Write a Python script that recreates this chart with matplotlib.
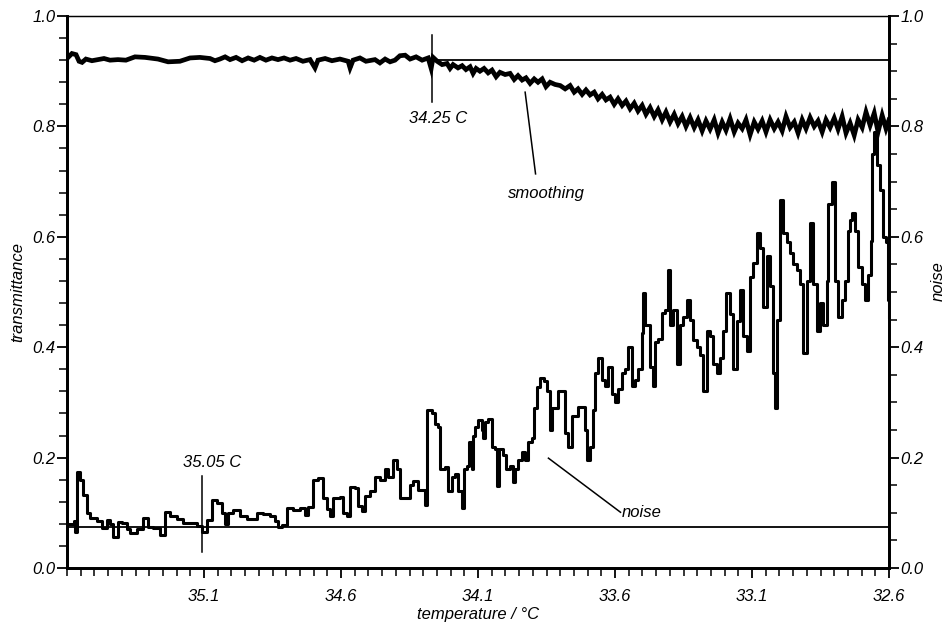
import numpy as np
import matplotlib
matplotlib.use("Agg")
import matplotlib.pyplot as plt
from matplotlib.ticker import MultipleLocator, FixedLocator

plt.rcParams['font.family'] = ['Liberation Sans', 'DejaVu Sans']
plt.rcParams['font.style'] = 'italic'
plt.rcParams['font.size'] = 11

# upper trace: transmittance after smoothing
t_temp = [35.596, 35.582, 35.567, 35.556, 35.545, 35.531, 35.509, 35.487, 35.465, 35.443,
          35.414, 35.385, 35.352, 35.315, 35.268, 35.231, 35.188, 35.151, 35.115, 35.078,
          35.060, 35.042, 35.023, 35.005, 34.983, 34.961, 34.939, 34.917, 34.896, 34.874,
          34.852, 34.830, 34.808, 34.786, 34.764, 34.739, 34.713, 34.695, 34.684, 34.658,
          34.633, 34.604, 34.574, 34.567, 34.556, 34.531, 34.509, 34.476, 34.458, 34.439,
          34.421, 34.403, 34.385, 34.366, 34.348, 34.326, 34.304, 34.282, 34.271, 34.264,
          34.249, 34.231, 34.213, 34.202, 34.191, 34.173, 34.158, 34.144, 34.129, 34.118,
          34.107, 34.093, 34.078, 34.063, 34.049, 34.034, 34.020, 34.001, 33.983, 33.968,
          33.954, 33.939, 33.925, 33.910, 33.895, 33.881, 33.866, 33.852, 33.837, 33.819,
          33.800, 33.782, 33.764, 33.749, 33.735, 33.720, 33.706, 33.691, 33.676, 33.662,
          33.647, 33.633, 33.618, 33.603, 33.589, 33.574, 33.560, 33.545, 33.530, 33.516,
          33.501, 33.487, 33.472, 33.457, 33.443, 33.428, 33.414, 33.399, 33.384, 33.370,
          33.355, 33.341, 33.326, 33.311, 33.297, 33.282, 33.268, 33.253, 33.238, 33.224,
          33.209, 33.195, 33.180, 33.165, 33.151, 33.136, 33.122, 33.107, 33.092, 33.078,
          33.063, 33.049, 33.034, 33.019, 33.005, 32.990, 32.976, 32.961, 32.946, 32.932,
          32.917, 32.903, 32.888, 32.873, 32.859, 32.844, 32.830, 32.815, 32.800, 32.786,
          32.771, 32.757, 32.742, 32.727, 32.713, 32.698, 32.684, 32.669, 32.654, 32.640,
          32.625, 32.611, 32.600]
transmittance = [0.925, 0.932, 0.930, 0.918, 0.916, 0.922, 0.919, 0.921, 0.923, 0.920,
                 0.921, 0.920, 0.926, 0.925, 0.922, 0.917, 0.918, 0.924, 0.925, 0.923,
                 0.919, 0.922, 0.926, 0.921, 0.925, 0.919, 0.924, 0.920, 0.925, 0.920,
                 0.924, 0.921, 0.924, 0.920, 0.923, 0.918, 0.921, 0.906, 0.920, 0.923,
                 0.919, 0.922, 0.918, 0.906, 0.920, 0.924, 0.918, 0.921, 0.915, 0.922,
                 0.917, 0.920, 0.928, 0.929, 0.922, 0.926, 0.920, 0.924, 0.905, 0.925,
                 0.918, 0.912, 0.914, 0.905, 0.912, 0.906, 0.910, 0.903, 0.908, 0.896,
                 0.905, 0.900, 0.905, 0.897, 0.902, 0.890, 0.898, 0.894, 0.896, 0.885,
                 0.892, 0.884, 0.888, 0.878, 0.886, 0.880, 0.886, 0.872, 0.880, 0.876,
                 0.874, 0.868, 0.874, 0.862, 0.868, 0.858, 0.866, 0.857, 0.862, 0.850,
                 0.858, 0.848, 0.853, 0.840, 0.850, 0.838, 0.846, 0.832, 0.842, 0.828,
                 0.838, 0.822, 0.834, 0.818, 0.830, 0.812, 0.826, 0.808, 0.822, 0.805,
                 0.818, 0.800, 0.816, 0.798, 0.812, 0.792, 0.810, 0.795, 0.812, 0.788,
                 0.808, 0.793, 0.814, 0.790, 0.806, 0.796, 0.812, 0.785, 0.808, 0.795,
                 0.810, 0.790, 0.812, 0.796, 0.808, 0.792, 0.818, 0.798, 0.808, 0.788,
                 0.812, 0.796, 0.816, 0.800, 0.810, 0.790, 0.812, 0.798, 0.815, 0.795,
                 0.818, 0.788, 0.806, 0.784, 0.812, 0.798, 0.826, 0.802, 0.824, 0.790,
                 0.820, 0.796, 0.812]

# lower trace: noise
n_temp = [35.596, 35.574, 35.571, 35.563, 35.553, 35.542, 35.527, 35.516, 35.490, 35.472,
          35.454, 35.443, 35.432, 35.414, 35.399, 35.381, 35.370, 35.344, 35.323, 35.304,
          35.286, 35.261, 35.242, 35.224, 35.198, 35.177, 35.151, 35.125, 35.107, 35.089,
          35.071, 35.052, 35.034, 35.023, 35.012, 34.994, 34.969, 34.943, 34.921, 34.906,
          34.885, 34.859, 34.841, 34.830, 34.815, 34.797, 34.775, 34.750, 34.731, 34.720,
          34.702, 34.684, 34.666, 34.651, 34.640, 34.629, 34.604, 34.593, 34.578, 34.567,
          34.549, 34.538, 34.523, 34.512, 34.494, 34.476, 34.458, 34.439, 34.428, 34.410,
          34.395, 34.385, 34.366, 34.348, 34.337, 34.319, 34.304, 34.293, 34.286, 34.268,
          34.257, 34.246, 34.239, 34.220, 34.209, 34.195, 34.184, 34.173, 34.158, 34.151,
          34.140, 34.133, 34.122, 34.118, 34.111, 34.100, 34.085, 34.082, 34.074, 34.063,
          34.049, 34.038, 34.030, 34.023, 34.009, 33.998, 33.983, 33.972, 33.965, 33.954,
          33.939, 33.928, 33.917, 33.903, 33.895, 33.884, 33.874, 33.859, 33.848, 33.837,
          33.830, 33.808, 33.782, 33.771, 33.757, 33.735, 33.709, 33.702, 33.691, 33.680,
          33.673, 33.662, 33.647, 33.636, 33.625, 33.611, 33.600, 33.589, 33.574, 33.563,
          33.552, 33.538, 33.527, 33.516, 33.501, 33.498, 33.490, 33.472, 33.461, 33.454,
          33.443, 33.428, 33.417, 33.406, 33.399, 33.388, 33.373, 33.363, 33.352, 33.337,
          33.326, 33.315, 33.300, 33.290, 33.279, 33.264, 33.253, 33.242, 33.227, 33.217,
          33.206, 33.195, 33.180, 33.169, 33.154, 33.144, 33.133, 33.118, 33.107, 33.096,
          33.081, 33.071, 33.060, 33.045, 33.034, 33.023, 33.016, 33.008, 32.998, 32.987,
          32.972, 32.961, 32.950, 32.935, 32.925, 32.914, 32.899, 32.888, 32.877, 32.862,
          32.852, 32.841, 32.826, 32.822, 32.808, 32.797, 32.786, 32.771, 32.760, 32.749,
          32.742, 32.735, 32.724, 32.713, 32.698, 32.687, 32.676, 32.665, 32.662, 32.654,
          32.643, 32.633, 32.622, 32.611, 32.603, 32.600]
noise = [0.080, 0.085, 0.065, 0.174, 0.160, 0.132, 0.100, 0.090, 0.085, 0.072,
         0.087, 0.080, 0.056, 0.084, 0.082, 0.070, 0.063, 0.070, 0.090, 0.075,
         0.072, 0.060, 0.101, 0.094, 0.088, 0.082, 0.082, 0.076, 0.065, 0.087,
         0.123, 0.118, 0.100, 0.080, 0.100, 0.105, 0.094, 0.088, 0.088, 0.100,
         0.097, 0.094, 0.085, 0.075, 0.078, 0.108, 0.105, 0.108, 0.096, 0.110,
         0.160, 0.163, 0.127, 0.106, 0.094, 0.126, 0.128, 0.100, 0.094, 0.147,
         0.145, 0.112, 0.104, 0.130, 0.140, 0.165, 0.160, 0.180, 0.165, 0.195,
         0.180, 0.126, 0.126, 0.150, 0.158, 0.142, 0.142, 0.115, 0.286, 0.280,
         0.260, 0.255, 0.180, 0.183, 0.140, 0.165, 0.170, 0.140, 0.108, 0.180,
         0.185, 0.228, 0.180, 0.240, 0.255, 0.268, 0.250, 0.235, 0.265, 0.270,
         0.220, 0.215, 0.148, 0.215, 0.205, 0.180, 0.185, 0.156, 0.180, 0.195,
         0.210, 0.196, 0.228, 0.236, 0.290, 0.328, 0.345, 0.338, 0.320, 0.250,
         0.290, 0.320, 0.245, 0.220, 0.275, 0.292, 0.250, 0.196, 0.220, 0.286,
         0.353, 0.380, 0.340, 0.330, 0.365, 0.315, 0.300, 0.325, 0.353, 0.360,
         0.400, 0.330, 0.340, 0.360, 0.425, 0.498, 0.440, 0.364, 0.330, 0.410,
         0.415, 0.462, 0.468, 0.540, 0.440, 0.468, 0.370, 0.440, 0.455, 0.485,
         0.450, 0.413, 0.400, 0.385, 0.320, 0.430, 0.420, 0.370, 0.353, 0.380,
         0.430, 0.498, 0.460, 0.360, 0.447, 0.503, 0.420, 0.393, 0.527, 0.553,
         0.607, 0.580, 0.473, 0.565, 0.510, 0.353, 0.290, 0.450, 0.667, 0.607,
         0.590, 0.570, 0.550, 0.540, 0.515, 0.390, 0.520, 0.625, 0.515, 0.430,
         0.480, 0.440, 0.520, 0.660, 0.700, 0.520, 0.455, 0.485, 0.520, 0.610,
         0.630, 0.643, 0.610, 0.545, 0.515, 0.485, 0.530, 0.593, 0.750, 0.790,
         0.730, 0.685, 0.600, 0.590, 0.485, 0.455]

# reference levels and event markers
level_high = 0.920
level_low = 0.075
marker_temps = [34.268, 35.107]
marker_spans = [(0.844, 0.966), (0.029, 0.167)]
marker_texts = ['34.25 C', '35.05 C']
marker_text_pos = [(34.244, 0.815), (35.07, 0.192)]

fig = plt.figure(figsize=(9.49, 6.30), dpi=100)
ax = fig.add_axes([0.0706, 0.0984, 0.8662, 0.8762])

ax.plot(t_temp, transmittance, color='black', lw=3.4, solid_joinstyle='miter')
ax.plot(n_temp, noise, color='black', lw=2.2, drawstyle='steps-post')

ax.plot([marker_temps[0], 32.6], [level_high, level_high], color='black', lw=1.3)
ax.axhline(level_low, color='black', lw=1.3)

for t, (lo, hi), txt, (tx, ty) in zip(marker_temps, marker_spans, marker_texts, marker_text_pos):
    ax.plot([t, t], [lo, hi], color='black', lw=1.1)
    ax.text(tx, ty, txt, ha='center', va='center', fontsize=12)

# leader lines for the two labels
ax.plot([33.928, 33.890], [0.862, 0.714], color='black', lw=1.1)
ax.text(33.85, 0.679, 'smoothing', ha='center', va='center', fontsize=12)
ax.plot([33.843, 33.580], [0.199, 0.101], color='black', lw=1.1)
ax.text(33.503, 0.101, 'noise', ha='center', va='center', fontsize=12)

ax.set_xlim(35.6, 32.6)
ax.set_ylim(0, 1.0)
ax.xaxis.set_major_locator(FixedLocator([35.1, 34.6, 34.1, 33.6, 33.1, 32.6]))
ax.xaxis.set_minor_locator(MultipleLocator(0.05))
ax.set_xticklabels(['35.1', '34.6', '34.1', '33.6', '33.1', '32.6'])
ax.yaxis.set_major_locator(MultipleLocator(0.2))
ax.yaxis.set_minor_locator(MultipleLocator(0.04))
ax.yaxis.set_major_formatter(lambda v, p: f'{v:.1f}')
ax.tick_params(axis='both', which='major', direction='out', length=7, width=1.3, labelsize=12)
ax.tick_params(axis='both', which='minor', direction='out', length=6, width=1.1)
ax.tick_params(axis='x', which='major', pad=8)
ax.tick_params(axis='y', which='major', pad=1)

ax2 = ax.twinx()
ax2.set_ylim(0, 1.0)
ax2.yaxis.set_major_locator(MultipleLocator(0.2))
ax2.yaxis.set_minor_locator(MultipleLocator(0.05))
ax2.yaxis.set_major_formatter(lambda v, p: f'{v:.1f}')
ax2.tick_params(axis='y', which='major', direction='out', length=7, width=1.3, labelsize=12, pad=1)
ax2.tick_params(axis='y', which='minor', direction='out', length=6, width=1.1)

for a in (ax, ax2):
    a.spines['left'].set_linewidth(2.0)
    a.spines['right'].set_linewidth(2.0)
    a.spines['bottom'].set_linewidth(2.0)
    a.spines['top'].set_linewidth(0.9)

ax.set_ylabel('transmittance', fontsize=12, va='center')
ax.yaxis.set_label_coords(-0.06, 0.5)
ax2.set_ylabel('noise', fontsize=12, rotation=90, va='center', ha='center')
ax2.yaxis.set_label_coords(1.06, 0.52)
ax.set_xlabel('temperature / °C', fontsize=12, va='center')
ax.xaxis.set_label_coords(0.5, -0.085)

fig.savefig('out.png', dpi=100)
